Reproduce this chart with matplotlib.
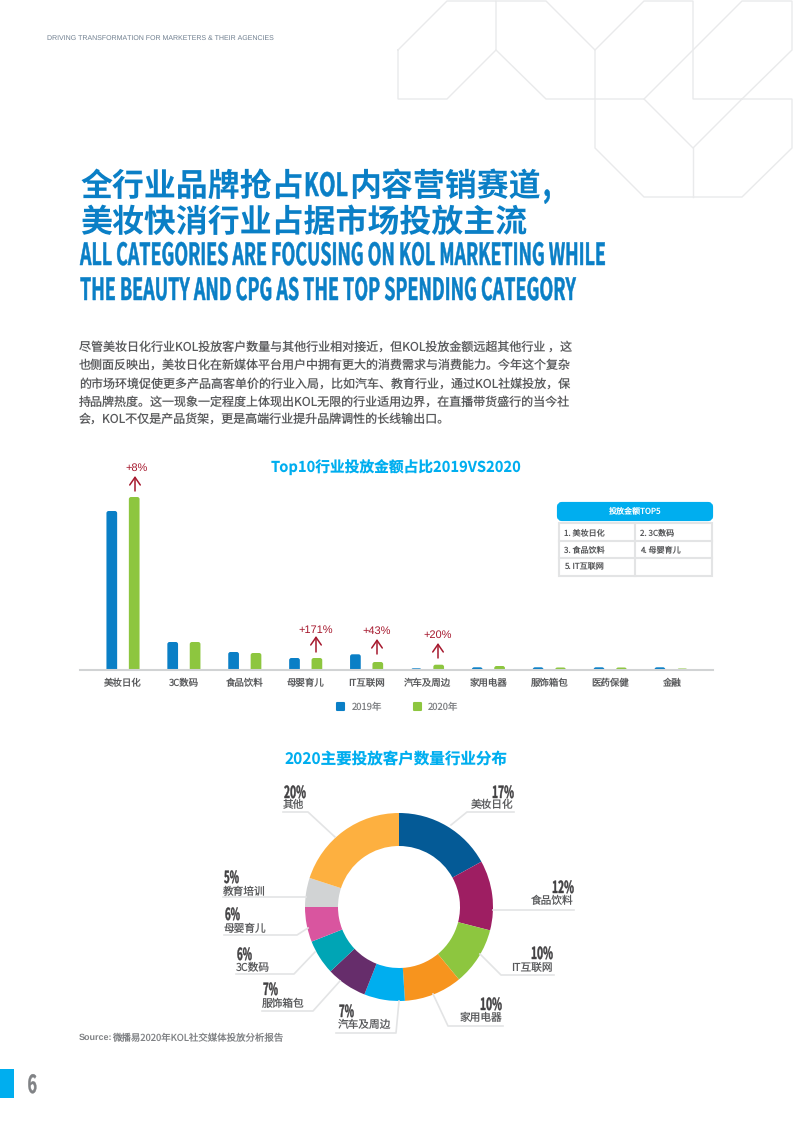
import matplotlib
matplotlib.use('Agg')
import matplotlib.pyplot as plt
import matplotlib.patheffects as pe
from matplotlib.patches import FancyBboxPatch, Rectangle
from matplotlib.transforms import Affine2D

CJK = ['Noto Sans CJK SC', 'DejaVu Sans']
NARROW = ['Liberation Sans Narrow', 'Noto Sans CJK SC']
plt.rcParams['font.family'] = CJK
plt.rcParams['text.hinting'] = 'no_hinting'
plt.rcParams['text.hinting_factor'] = 1

# datos del grafico de barras
categorias = ['美妆日化', '3C数码', '食品饮料', '母婴育儿', 'IT互联网',
              '汽车及周边', '家用电器', '服饰箱包', '医药保健', '金融']
valores_2019 = [159, 28, 18, 12, 15.7, 1.7, 2.7, 2.7, 2.7, 2.7]
valores_2020 = [173, 28, 17, 12, 8, 5.3, 4, 2.5, 2.5, 1.5]
series = ['2019年', '2020年']
incrementos = ['+8%', '+171%', '+43%', '+20%']

top5_titulo = '投放金额TOP5'
top5 = ['1. 美妆日化', '2. 3C数码', '3. 食品饮料', '4. 母婴育儿', '5. IT互联网']

# datos del donut
industrias = ['美妆日化', '食品饮料', 'IT互联网', '家用电器', '汽车及周边',
              '服饰箱包', '3C数码', '母婴育儿', '教育培训', '其他']
cuotas = [17, 12, 10, 10, 7, 7, 6, 6, 5, 20]

cuerpo = [
    '尽管美妆日化行业KOL投放客户数量与其他行业相对接近，但KOL投放金额远超其他行业 ，这',
    '也侧面反映出，美妆日化在新媒体平台用户中拥有更大的消费需求与消费能力。今年这个复杂',
    '的市场环境促使更多产品高客单价的行业入局，比如汽车、教育行业，通过KOL社媒投放，保',
    '持品牌热度。这一现象一定程度上体现出KOL无限的行业适用边界，在直播带货盛行的当今社',
    '会，KOL不仅是产品货架，更是高端行业提升品牌调性的长线输出口。',
]

AZUL = '#0a7fc6'
CIAN = '#00aeef'
GRIS = '#58595b'
LINEA = '#e3e4e5'
ROJO = '#a6192e'
W, H = 793, 1122


class Alto(pe.AbstractPathEffect):
    # estira el texto en vertical desde su linea base y le da algo mas de peso
    def __init__(self, sy, y0, grosor=0.0):
        super().__init__()
        self.sy = sy
        self.y0 = y0
        self.grosor = grosor

    def draw_path(self, renderer, gc, tpath, affine, rgbFace=None):
        t = affine + Affine2D().translate(0, -self.y0).scale(1, self.sy).translate(0, self.y0)
        gc2 = renderer.new_gc()
        gc2.copy_properties(gc)
        if self.grosor > 0:
            gc2.set_foreground(rgbFace)
            gc2.set_linewidth(self.grosor)
        renderer.draw_path(gc2, tpath, t, rgbFace)
        gc2.restore()


fig = plt.figure(figsize=(W / 100, H / 100), dpi=100)
page = fig.add_axes([0, 0, 1, 1], zorder=5)
page.set_xlim(0, W)
page.set_ylim(H, 0)
page.axis('off')
page.patch.set_alpha(0)


def ancho_fijo(x, y, s, ancho, size, color=AZUL, grosor=0.0):
    # ajusta el cuerpo al ancho pedido y recupera la altura con Alto
    t = page.text(x, y, s, fontsize=size, family=NARROW, weight='bold', color=color,
                  ha='left', va='baseline')
    w = t.get_window_extent(fig.canvas.get_renderer()).width
    nuevo = size * ancho / w
    t.set_fontsize(nuevo)
    t.set_path_effects([Alto(size / nuevo, H - y, grosor)])
    return t


# 1. Fondo geometrico
trazos = [
    [(398, 50), (447, 1), (496, 1), (496, 50), (447, 99), (398, 99), (398, 50)],
    [(496, 1), (546, 1), (595, 50), (595, 99), (546, 99), (496, 50)],
    [(595, 50), (644, 1), (693, 1), (693, 99), (792, 99), (792, 148), (742, 197), (644, 197),
     (595, 148), (595, 99), (644, 99), (693, 148), (742, 99)],
    [(644, 99), (693, 50), (742, 1), (792, 1), (792, 50), (742, 99)],
    [(693, 148), (693, 197)],
]
for tr in trazos:
    page.plot([p[0] for p in tr], [p[1] for p in tr], color='#e9eaeb', lw=1, solid_joinstyle='miter')

page.text(47, 38, 'DRIVING TRANSFORMATION FOR MARKETERS & THEIR AGENCIES', fontsize=5.4,
          family='Liberation Sans', color='#6f7f8f', va='center')

# 2. Titulos
page.text(80, 196, '全行业品牌抢占', fontsize=23, weight='bold', color=AZUL, va='baseline')
ancho_fijo(304, 196, 'KOL', 44, 23, grosor=0.4)
page.text(349, 196, '内容营销赛道', fontsize=23, weight='bold', color=AZUL, va='baseline')
ancho_fijo(543, 196, ',', 8, 26, grosor=0.4)
page.text(80, 232, '美妆快消行业占据市场投放主流', fontsize=23, weight='bold', color=AZUL, va='baseline')
ancho_fijo(80, 265, 'ALL CATEGORIES ARE FOCUSING ON KOL MARKETING WHILE', 526, 22, grosor=0.35)
ancho_fijo(80, 300, 'THE BEAUTY AND CPG AS THE TOP SPENDING CATEGORY', 496, 22, grosor=0.35)

for linea, y in zip(cuerpo, [347, 365, 384, 402, 419]):
    page.text(79, y, linea, fontsize=8.65, color=GRIS, va='center')

# 3. Barras
base, tope = 670, 480
x0, paso = 123, 60.9
ax = fig.add_axes([80 / W, 1 - base / H, (713 - 80) / W, (base - tope) / H])
ax.set_xlim((80 - x0) / paso, (713 - x0) / paso)
ax.set_ylim(0, base - tope)
pos = list(range(len(categorias)))
off = 11.2 / paso
b19 = ax.bar([p - off for p in pos], valores_2019, width=10.7 / paso, color='#0a7fc6', linewidth=0, label=series[0])
b20 = ax.bar([p + off for p in pos], valores_2020, width=10.7 / paso, color='#8dc63f', linewidth=0, label=series[1])
ax.set_xticks(pos)
ax.set_xticklabels(categorias, fontsize=6.8, color=GRIS)
ax.tick_params(axis='x', length=0, pad=6)
ax.set_yticks([])
for s in ['top', 'left', 'right']:
    ax.spines[s].set_visible(False)
ax.spines['bottom'].set_color('#d1d3d4')
ax.spines['bottom'].set_linewidth(1.5)
ax.patch.set_alpha(0)
leg = ax.legend(loc='center', bbox_to_anchor=(398 / W, 1 - 707 / H), bbox_transform=fig.transFigure,
                ncol=2, frameon=False, fontsize=6.8, labelcolor='#808285', handlelength=0.75,
                handleheight=0.8, handletextpad=0.75, columnspacing=3.4)
for h, c in zip(leg.get_patches(), ['#0a7fc6', '#8dc63f']):
    h.set_edgecolor(c)
    h.set_linewidth(1.5)
    h.set_joinstyle('round')

# cambia cada rectangulo por uno con esquinas redondeadas, misma geometria
for cont in (b19, b20):
    for rect in list(cont):
        ax.add_patch(FancyBboxPatch((rect.get_x(), -4), rect.get_width(), rect.get_height() + 4,
                                    boxstyle='round,pad=0,rounding_size=%f' % (2.2 / paso),
                                    mutation_aspect=paso, facecolor=rect.get_facecolor(),
                                    edgecolor='none', clip_on=True))
        rect.remove()

page.text(396, 468, 'Top10行业投放金额占比2019VS2020', fontsize=10.6, weight='bold', color=CIAN,
          ha='center', va='center')

marcas = [(137, 468, 135, 491, 476), (316, 630, 316, 652, 636), (377, 631, 377, 654, 639), (438, 635, 438, 658, 643)]
for txt, (tx, ty, ax_x, y1, y2) in zip(incrementos, marcas):
    page.text(tx, ty, txt, fontsize=8.2, family='Liberation Sans', color=ROJO, ha='center', va='center')
    page.annotate('', xy=(ax_x, y2), xytext=(ax_x, y1),
                  arrowprops=dict(arrowstyle='->,head_length=0.55,head_width=0.38', color=ROJO, lw=1.1,
                                  shrinkA=0, shrinkB=0))

# 4. Tabla TOP5
page.add_patch(FancyBboxPatch((559, 504), 152, 15, boxstyle='round,pad=0,rounding_size=3',
                              mutation_aspect=1, facecolor=CIAN, edgecolor=CIAN, lw=3))
page.text(635, 511, top5_titulo, fontsize=5.8, color='white', ha='center', va='center')
page.add_patch(Rectangle((558.5, 523), 153, 52.5, fill=False, edgecolor=LINEA, lw=1.5))
page.plot([635, 635], [523, 575.5], color=LINEA, lw=1.5)
for yy in (541, 558):
    page.plot([558.5, 711.5], [yy, yy], color=LINEA, lw=1.5)
for i, txt in enumerate(top5):
    page.text(564 if i % 2 == 0 else 640, 533 + 17 * (i // 2), txt, fontsize=5.8, color=GRIS, va='center')

# 5. Donut
colores = ['#045a96', '#9e1e62', '#8dc63f', '#f7941e', '#00aeef',
           '#662d6b', '#00a5b5', '#d9559f', '#d1d3d4', '#fdb040']
cx, cy, R = 399, 907, 94
dn = fig.add_axes([(cx - R) / W, 1 - (cy + R) / H, 2 * R / W, 2 * R / H])
dn.pie(cuotas, colors=colores, startangle=90, counterclock=False, radius=1,
       wedgeprops=dict(width=33 / 94, linewidth=0))
dn.set_xlim(-1, 1)
dn.set_ylim(-1, 1)

page.text(396.5, 760, '2020主要投放客户数量行业分布', fontsize=11.2, weight='bold', color=CIAN, ha='center', va='center')

guias = [
    [(451, 825), (467, 812), (514, 812)],
    [(493, 910), (574, 910)],
    [(480, 954), (501, 975), (554, 975)],
    [(433, 994), (448, 1026), (503, 1026)],
    [(399, 1001), (396, 1033), (336, 1033)],
    [(340, 981), (313, 1011), (262, 1011)],
    [(315, 952), (294, 974), (236, 974)],
    [(308, 928), (297, 935), (224, 935)],
    [(306, 897), (223, 897)],
    [(335, 837), (308, 812), (283, 812)],
]
for g in guias:
    page.plot([p[0] for p in g], [p[1] for p in g], color=LINEA, lw=1.2)

rotulos = [
    (514, 'right', 792, 804), (574, 'right', 887, 900), (553, 'right', 953, 967), (502, 'right', 1004, 1017),
    (338, 'left', 1011, 1024), (262, 'left', 989, 1003), (236, 'left', 954, 967), (224, 'left', 914, 928),
    (223, 'left', 877, 891), (283, 'left', 792, 804),
]
for nom, c, (lx, ha, yp, yn) in zip(industrias, cuotas, rotulos):
    ancho = 22 if c >= 10 else 15
    izq = lx - ancho if ha == 'right' else lx + 1
    ancho_fijo(izq, yp + 6, f'{c}%', ancho, 12, color='#414042', grosor=0.3)
    page.text(lx, yn + 1, nom, fontsize=7.7, color=GRIS, ha=ha, va='center')

# 6. Pie de pagina
page.text(79, 1038, 'Source:', fontsize=6.4, family='Liberation Sans', weight='bold', color='#808285', va='center')
page.text(112, 1038, '微播易2020年KOL社交媒体投放分析报告', fontsize=6.8, color='#808285', va='center')
page.add_patch(Rectangle((0, 1069), 14, 29, facecolor=CIAN, edgecolor='none'))
ancho_fijo(27.5, 1093, '6', 9.5, 18, color='#808285', grosor=0.3)

fig.savefig('out.png', dpi=100)
